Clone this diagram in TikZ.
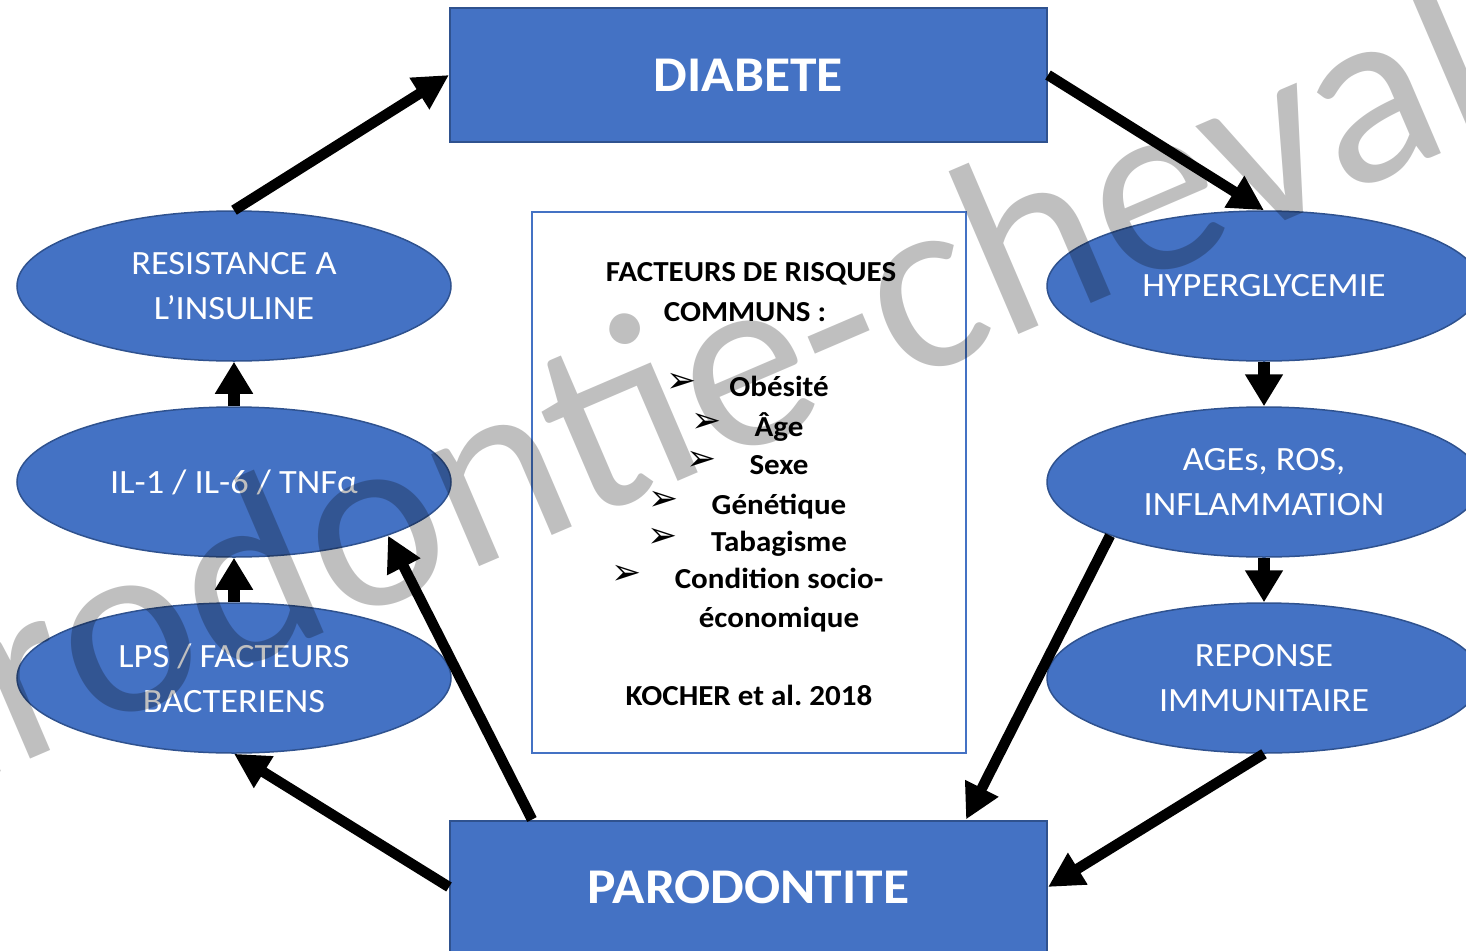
\documentclass[tikz,border=0pt]{standalone}
\usepackage{fontspec}
\setmainfont{Carlito}[FakeStretch=1.07]
\newfontfamily\wmfont{Carlito}
\newfontfamily\symfont{DejaVu Sans}
\usetikzlibrary{shapes.geometric,arrows.meta,calc}
\definecolor{pblue}{HTML}{4472C4}
\definecolor{pborder}{HTML}{2F528F}
\tikzset{
  bigbox/.style={rectangle, draw=pborder, line width=2pt, fill=pblue,
    minimum width=597pt, minimum height=133pt, inner sep=0pt,
    text=white, font=\fontsize{50}{60}\selectfont\bfseries},
  oval/.style={ellipse, draw=pborder, line width=1.5pt, fill=pblue,
    minimum width=434pt, minimum height=150pt, inner sep=0pt,
    text=white, align=center, font=\fontsize{34}{45}\selectfont},
  infobox/.style={rectangle, draw=pblue, line width=2pt, fill=white,
    minimum width=434pt, minimum height=541pt, inner sep=0pt},
  ftxt/.style={inner sep=0pt, anchor=base, font=\fontsize{29}{35}\selectfont\bfseries},
  bul/.style={inner sep=0pt, font=\symfont\fontsize{36}{36}\selectfont},
  bigarrow/.style={line width=10.5pt, -{Triangle[length=35pt,width=35pt]}},
  smallarrow/.style={line width=12pt, -{Triangle[length=32pt,width=36pt]}},
  wmark/.style={inner sep=0pt, anchor=base west, rotate=23.2, text=black,
    text opacity=0.25, font=\wmfont\fontsize{255}{255}\selectfont}
}
\begin{document}
\begin{tikzpicture}[x=1pt,y=-1pt]
\useasboundingbox (0,0) rectangle (1466,950);
\clip (0,0) rectangle (1466,950);

\node[bigbox] (diab) at (748.5,75) {DIABETE};
\node[bigbox] (paro) at (748.5,887) {PARODONTITE};

\node[oval] (res) at (234,286) {RESISTANCE A\\L’INSULINE};
\node[oval] (il) at (234,482) {IL-1 / IL-6 / TNFα};
\node[oval] (lps) at (234,678) {LPS / FACTEURS\\BACTERIENS};
\node[oval] (hyp) at (1264,286) {HYPERGLYCEMIE};
\node[oval] (ages) at (1264,482) {AGEs, ROS,\\INFLAMMATION};
\node[oval] (rep) at (1264,678) {REPONSE\\IMMUNITAIRE};

\node[infobox] (info) at (749,482.5) {};
\node[ftxt] (t1) at (751,281) {FACTEURS DE RISQUES};
\node[ftxt] (t2) at (745,321) {COMMUNS :};
\node[ftxt] (i1) at (779,396) {Obésité};
\node[ftxt] (i2) at (779,436) {Âge};
\node[ftxt] (i3) at (779,474) {Sexe};
\node[ftxt] (i4) at (779,514) {Génétique};
\node[ftxt] (i5) at (779,551) {Tabagisme};
\node[ftxt] (i6) at (779,588) {Condition socio-};
\node[ftxt] (i7) at (779,627) {économique};
\node[ftxt] (t3) at (749,705) {KOCHER et al.\ 2018};
\foreach \n in {1,...,6}
  \node[bul] (b\n) at ([xshift=-48pt,yshift=13pt]i\n.base west) {➢};

\draw[bigarrow] (res.north) -- (diab.west);
\draw[bigarrow] (diab.east) -- (hyp.north);
\draw[smallarrow] (hyp.south) -- (ages.north);
\draw[smallarrow] (ages.south) -- (rep.north);
\draw[bigarrow] (ages.south west) -- ($(paro.north)+(217.5,0)$);
\draw[bigarrow] (rep.south) -- (paro.east);
\draw[bigarrow] (paro.west) -- (lps.south);
\draw[bigarrow] ($(paro.north)+(-216.5,0)$) -- (il.south east);
\draw[smallarrow] (lps.north) -- (il.south);
\draw[smallarrow] (il.north) -- (res.south);

\node[wmark] (wm) at (-220,866) {parodontie-cheval};
\end{tikzpicture}
\end{document}
